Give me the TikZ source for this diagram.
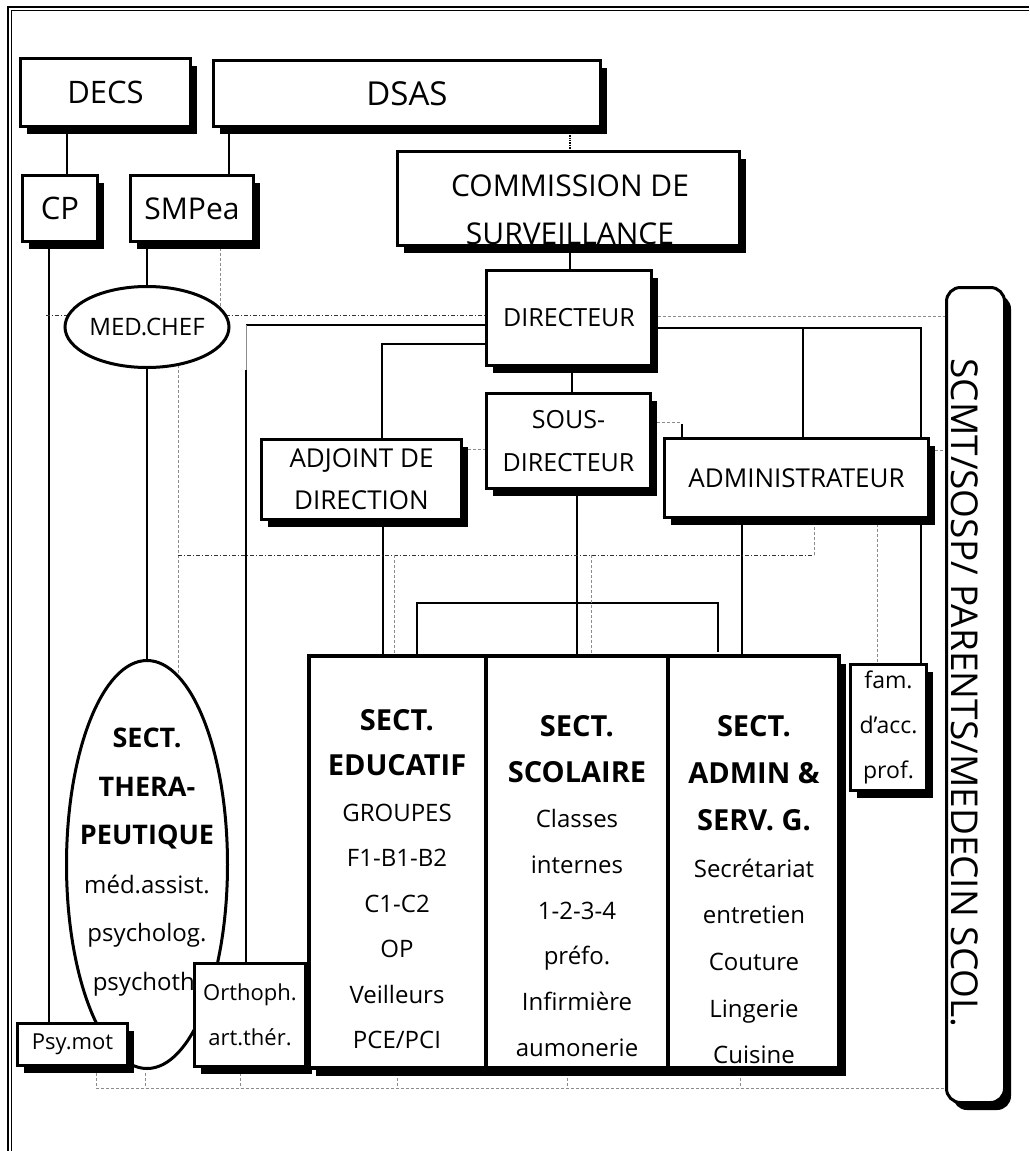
\documentclass[tikz,border=0pt]{standalone}
\usepackage{fontspec}
\setmainfont{Open Sans}
\usetikzlibrary{shadows,calc,shapes.geometric}
\pgfdeclarelayer{bg}
\pgfsetlayers{bg,main}
\newcommand\fsz[2]{\fontsize{#1}{#2}\selectfont}
\begin{document}
\begin{tikzpicture}[x=1pt,y=-1pt,
  sbox/.style={draw, line width=3pt, fill=white, inner sep=0pt, align=center,
     drop shadow={shadow xshift=6.5pt, shadow yshift=-7.5pt, opacity=1, fill=black}},
  ell/.style={draw, ellipse, line width=3pt, fill=white, inner sep=0pt, align=center},
  conn/.style={line width=1.4pt, black},
  dd/.style={line width=0.8pt, black!80, dash pattern=on 4pt off 2pt on 1pt off 2pt},
  gd/.style={line width=0.8pt, black!45, dash pattern=on 3pt off 2pt},
  txt/.style={inner sep=0pt, align=center}
]
\useasboundingbox (0,0) rectangle (1029,1151);
% ---------- nodes ----------
\node[sbox, minimum width=170pt, minimum height=68pt, font=\fsz{31}{31}] (decs) at (105.5,92.5) {DECS};
\node[sbox, minimum width=387pt, minimum height=66pt, font=\fsz{33}{33}] (dsas) at (407,93.5) {DSAS};
\node[sbox, minimum width=342pt, minimum height=94pt] (com) at (568.5,198.5) {};
\node[txt, font=\fsz{30}{48}] (comT) at (570,210) {COMMISSION DE\\SURVEILLANCE};
\node[sbox, minimum width=75pt, minimum height=66pt, font=\fsz{31}{31}] (cp) at (60,208.5) {CP};
\node[sbox, minimum width=123pt, minimum height=66pt, font=\fsz{30}{30}] (smp) at (192,208.5) {SMPea};
\node[ell, minimum width=164pt, minimum height=81pt, font=\fsz{24}{24}] (mc) at (147,327) {MED.CHEF};
\node[sbox, minimum width=165pt, minimum height=95pt, font=\fsz{25}{25}] (dir) at (569,318) {DIRECTEUR};
\node[sbox, minimum width=164pt, minimum height=95pt, font=\fsz{25}{43}] (sous) at (568.5,441) {SOUS-\\DIRECTEUR};
\node[sbox, minimum width=200pt, minimum height=80pt, font=\fsz{26}{42}] (adj) at (361.5,479.5) {ADJOINT DE\\DIRECTION};
\node[sbox, minimum width=264pt, minimum height=79pt, font=\fsz{26}{26}] (adm) at (796.5,478) {ADMINISTRATEUR};
\node[sbox, minimum width=76pt, minimum height=126pt, font=\fsz{23}{45}] (fam) at (888.5,727) {fam.\\d'acc.\\prof.};
\node[sbox, rounded corners=14pt, minimum width=58pt, minimum height=815pt] (scmt) at (975.5,695) {};
\node[txt, rotate=-90, font=\fsz{37}{37}] (scmtT) at (965,693) {SCMT/SOSP/ PARENTS/MEDECIN SCOL.};
\node[ell, minimum width=161pt, minimum height=408pt] (thera) at (147,864.5) {};
\node[txt, font=\fsz{24}{48.6}] (theraT) at (147,862) {{\fsz{27}{48.6}\bfseries SECT.}\\{\fsz{27}{48.6}\bfseries THERA-}\\{\fsz{27}{48.6}\bfseries PEUTIQUE}\\méd.assist.\\psycholog.\\psychoth.};
\node[sbox, minimum width=110pt, minimum height=42pt, font=\fsz{22}{22}] (psy) at (72.5,1044.5) {Psy.mot};
\node[sbox, minimum width=111pt, minimum height=103pt, font=\fsz{22}{45}] (orth) at (250,1015) {Orthoph.\\art.thér.};
\node[sbox, line width=4pt, minimum width=530pt, minimum height=412pt] (sect) at (574,862) {};
\draw[line width=3.5pt] (486,0 |- sect.north) -- (486,0 |- sect.south);
\draw[line width=3.5pt] (668,0 |- sect.north) -- (668,0 |- sect.south);
\node[txt, font=\fsz{24}{45.5}] (eduT) at (397,879) {{\fsz{29}{45.5}\bfseries SECT.}\\{\fsz{29}{45.5}\bfseries EDUCATIF}\\GROUPES\\F1-B1-B2\\C1-C2\\OP\\Veilleurs\\PCE/PCI};
\node[txt, font=\fsz{24}{45.7}] (scolT) at (577,886) {{\fsz{29}{45.7}\bfseries SECT.}\\{\fsz{29}{45.7}\bfseries SCOLAIRE}\\Classes\\internes\\1-2-3-4\\préfo.\\Infirmière\\aumonerie};
\node[txt, font=\fsz{24}{46.7}] (admT) at (754,890) {{\fsz{29}{46.7}\bfseries SECT.}\\{\fsz{29}{46.7}\bfseries ADMIN \&}\\{\fsz{29}{46.7}\bfseries SERV. G.}\\Secrétariat\\entretien\\Couture\\Lingerie\\Cuisine};
% ---------- connectors (behind) ----------
\begin{pgfonlayer}{bg}
\fill[white] (0,0) rectangle (1029,1151);
\draw[line width=1.8pt] (8.2,1151) -- (8.2,6.7) -- (1029,6.7);
\draw[line width=1.3pt] (11.7,1151) -- (11.7,10.7) -- (1029,10.7);
\draw[conn] (67,0 |- decs.south) -- (67,0 |- cp.north);
\draw[conn] (229,0 |- dsas.south) -- (229,0 |- smp.north);
\draw[line width=1.4pt, densely dotted] (570,0 |- dsas.south) -- (570,0 |- com.north);
\draw[conn] (570,0 |- com.south) -- (570,0 |- dir.north);
\draw[conn] (572,0 |- dir.south) -- (572,0 |- sous.north);
\draw[conn] (49,0 |- cp.south) -- (49,0 |- psy.north);
\draw[conn] (mc.north |- smp.south) -- (mc.north);
\draw[conn] (mc.south) -- (thera.north);
\draw[conn] (0,325 -| dir.west) -- (246,325);
\draw[line width=0.9pt, black!45] (246,325) -- (246,370);
\draw[conn] (246,370) -- (246,0 |- orth.north);
\draw[conn] (0,344 -| dir.west) -- (382,344) -- (382,0 |- adj.north);
\draw[conn] (0,328 -| dir.east) -- (921,328) -- (921,0 |- fam.north);
\draw[conn] (803,328) -- (803,0 |- adm.north);
\draw[gd] (0,422 -| sous.east) -- (682,422);
\draw[conn] (682,424) -- (682,0 |- adm.north);
\draw[conn] (383,0 |- adj.south) -- (383,0 |- sect.north);
\draw[conn] (577,0 |- sous.south) -- (577,0 |- sect.north);
\draw[conn] (742,0 |- adm.south) -- (742,0 |- sect.north);
\draw[conn] (417,0 |- sect.north) -- (417,603) -- (718,603) -- (718,652);
% dashed
\draw[dd] (46,315) -- (0,315 -| dir.west);
\draw[gd] (220,0 |- smp.south) -- (220,315);
\draw[gd] (0,316 -| dir.east) -- (0,316 -| scmt.west);
\draw[gd] (178,360) -- (178,700);
\draw[dd] (178,555) -- (814,555);
\draw[gd] (814,555) -- (814,0 |- adm.south);
\draw[gd] (394,555) -- (394,0 |- sect.north);
\draw[gd] (591,555) -- (591,0 |- sect.north);
\draw[gd] (0,449 -| adj.east) -- (0,449 -| sous.west);
\draw[gd] (877,0 |- adm.south) -- (877,0 |- fam.north);
\draw[gd] (0,450 -| adm.east) -- (0,450 -| scmt.west);
\draw[gd] (96,1088) -- (0,1088 -| scmt.west);
\foreach \xx in {96,145,240,397,567,740} \draw[gd] (\xx,1073) -- (\xx,1088);
\end{pgfonlayer}
\end{tikzpicture}
\end{document}
